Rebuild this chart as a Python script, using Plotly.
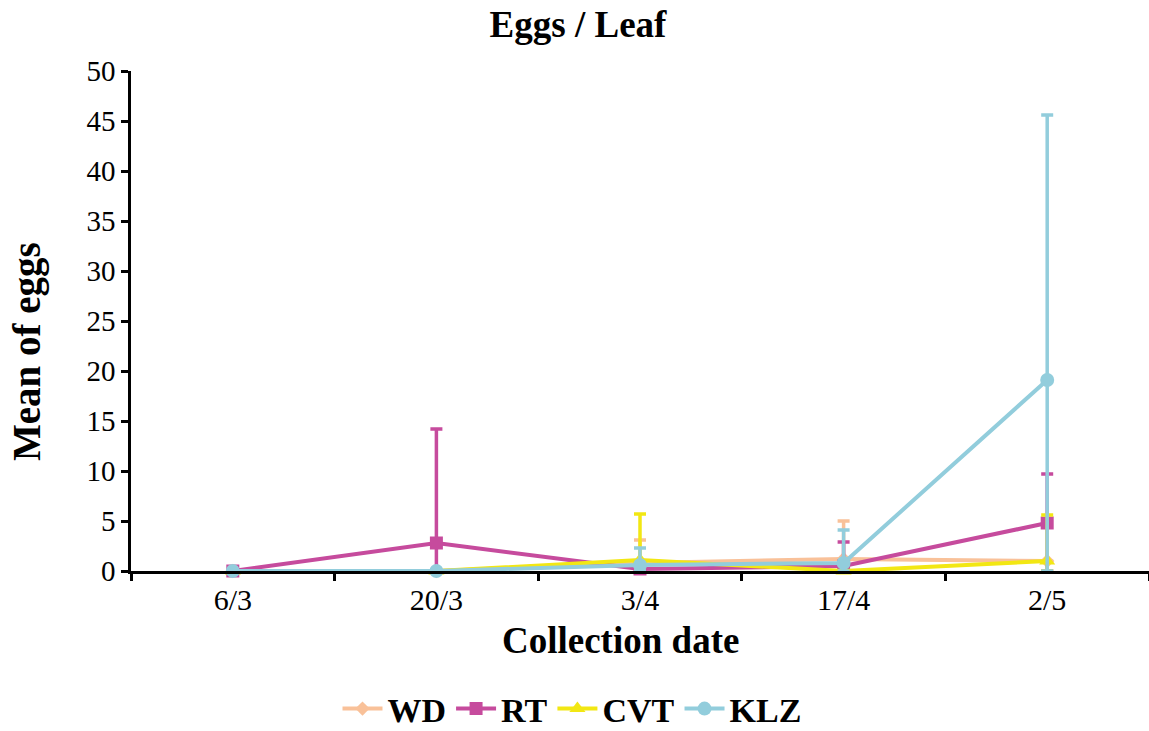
import plotly.graph_objects as go

dates = ["6/3", "20/3", "3/4", "17/4", "2/5"]

wd = [0.0, 0.0, 0.8, 1.2, 1.0]
wd_err = [0.0, 0.0, 2.3, 3.8, 0.0]
rt = [0.0, 2.8, 0.2, 0.5, 4.8]
rt_err = [0.0, 11.4, 0.0, 2.4, 4.9]
cvt = [0.0, 0.0, 1.1, 0.0, 1.0]
cvt_err = [0.0, 0.0, 4.6, 0.0, 4.6]
klz = [0.0, 0.0, 0.6, 0.8, 19.1]
klz_err = [0.0, 0.0, 1.7, 3.3, 26.5]

y_ticks = [0, 5, 10, 15, 20, 25, 30, 35, 40, 45, 50]

FONT = "Liberation Serif"

series = [
    ("WD", wd, wd_err, "#F9C199", "diamond", 11),
    ("RT", rt, rt_err, "#C64B9D", "square", 13),
    ("CVT", cvt, cvt_err, "#F2E713", "triangle-up", 14),
    ("KLZ", klz, klz_err, "#92CDDC", "circle", 14),
]

fig = go.Figure()
for name, vals, err, color, sym, size in series:
    fig.add_trace(go.Scatter(
        x=dates, y=vals, name=name, mode="lines+markers",
        line=dict(color=color, width=4),
        marker=dict(color=color, symbol=sym, size=size),
        error_y=dict(type="data", array=err,
                     arrayminus=[min(e, v) for e, v in zip(err, vals)],
                     color=color, thickness=3.5, width=6),
        cliponaxis=False,
    ))

W, H = 1149, 731

fig.update_layout(
    width=W, height=H,
    margin=dict(l=131, r=0, t=71, b=160),
    plot_bgcolor="white", paper_bgcolor="white",
    font=dict(family=FONT, color="black"),
    title=dict(text="<b>Eggs / Leaf</b>", x=578 / W, xref="container", xanchor="center",
               y=1 - 24 / H, yref="container", yanchor="middle",
               font=dict(family=FONT, size=37, color="black")),
    showlegend=True,
    legend=dict(orientation="h", xref="container", yref="container",
                x=572 / W, xanchor="center", y=1 - 709 / H, yanchor="middle",
                bgcolor="rgba(0,0,0,0)",
                font=dict(family=FONT, size=34, color="black", weight="bold"),
                itemwidth=40, tracegroupgap=0),
    xaxis=dict(type="category", range=[-0.5, 4.5], showline=True, linecolor="black",
               linewidth=2.5, showgrid=False, zeroline=False,
               ticks="outside", tickson="boundaries", ticklen=7, tickwidth=2.5,
               tickcolor="black",
               tickfont=dict(family=FONT, size=30, color="black")),
    yaxis=dict(range=[0, 50], tickvals=y_ticks, showline=True, linecolor="black",
               linewidth=2.5, ticks="outside", ticklen=7, tickwidth=2.5, tickcolor="black",
               showgrid=False, zeroline=False,
               tickfont=dict(family=FONT, size=29, color="black")),
    annotations=[
        dict(text="<b>Collection date</b>", xref="paper", yref="paper", x=(620 - 131) / 1018,
             y=(571 - 640) / 500, xanchor="center", yanchor="middle", showarrow=False,
             font=dict(family=FONT, size=37, color="black")),
        dict(text="<b>Mean of eggs</b>", xref="paper", yref="paper", x=(27 - 131) / 1018,
             y=(571 - 352) / 500, xanchor="center", yanchor="middle", textangle=-90,
             showarrow=False, font=dict(family=FONT, size=39, color="black")),
    ],
)

fig.write_html("out.html", config={"displayModeBar": False},
               post_script="document.body.style.margin='0px';")
